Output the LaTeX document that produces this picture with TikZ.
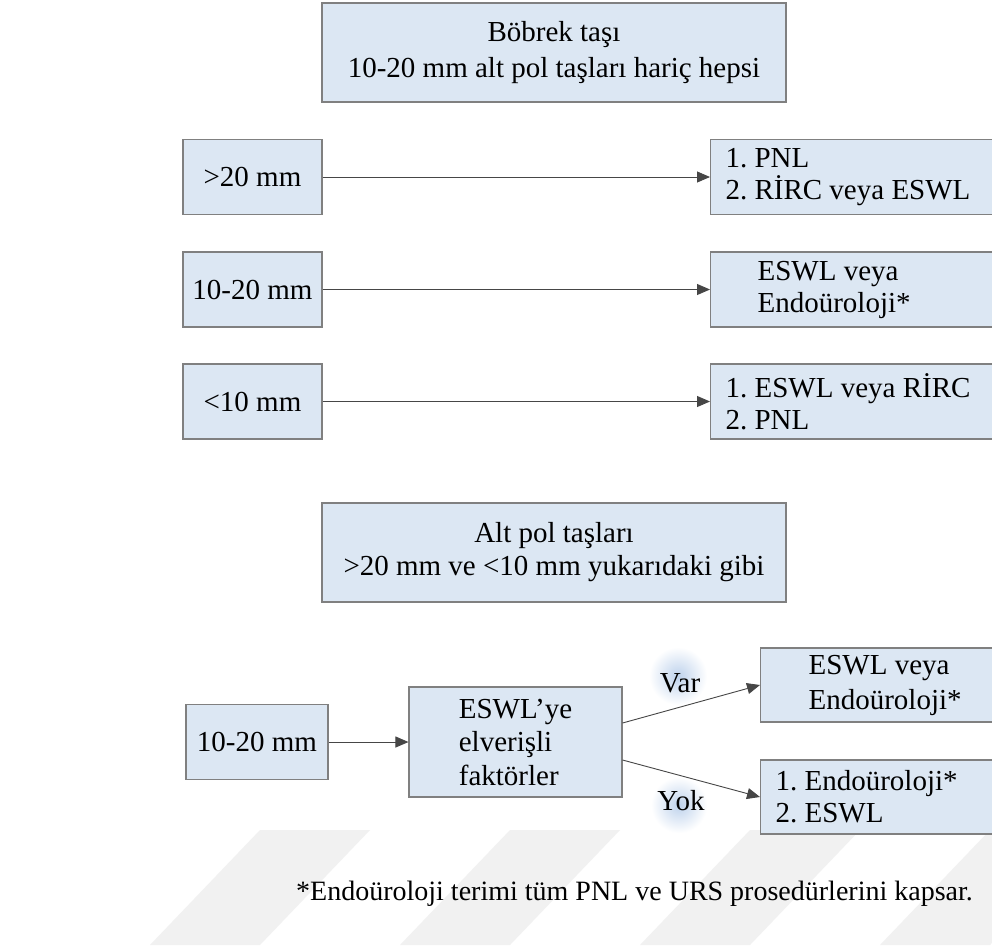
\documentclass[tikz,border=0pt]{standalone}
\usepackage{fontspec}
\setmainfont{Liberation Serif}
\usetikzlibrary{arrows.meta}
\definecolor{BoxBlue}{RGB}{220,231,243}
\definecolor{BoxEdge}{RGB}{128,128,128}
\definecolor{LineGray}{RGB}{70,70,70}
\definecolor{GlowBlue}{RGB}{190,210,236}
\definecolor{MarkGray}{RGB}{241,241,241}

\begin{document}
\frenchspacing
\begin{tikzpicture}[
    x=1pt,
    y=-1pt,
    font=\fontsize{29}{32}\selectfont,
    >={Triangle[length=13pt,width=11pt]},
    box/.style={
        draw=BoxEdge,
        line width=1.1pt,
        fill=BoxBlue,
        inner sep=0pt,
        minimum height=75pt
    },
    bigbox/.style={
        box,
        minimum width=464pt,
        minimum height=99pt,
        align=center
    },
    sizebox/.style={
        box,
        minimum width=139pt
    },
    resultbox/.style={
        box,
        anchor=west,
        align=flush left,
        inner xsep=#1,
        text width=260pt
    },
    arrow/.style={
        ->,
        line width=0.9pt,
        draw=LineGray
    },
    glow/.style={
        inner color=GlowBlue,
        outer color=white
    }
]

% page
\fill[white] (0,0) rectangle (992,945);
\useasboundingbox (0,0) rectangle (992,945);

% watermark bands
\foreach \x in {150,400,640,880}
    \fill[MarkGray] (\x,945) -- ++(110,0) -- ++(110,-115) -- ++(-110,0) -- cycle;

% kidney stones
\node[bigbox, font=\fontsize{29}{36}\selectfont] (kidney) at (554,52.5)
    {Böbrek taşı\\10-20 mm alt pol taşları hariç hepsi};

\node[sizebox] (large)  at (252.5,177) {>20 mm};
\node[sizebox] (medium) at (252.5,289.5) {10-20 mm};
\node[sizebox] (small)  at (252.5,401.5) {<10 mm};

\node[resultbox=15pt] (reslarge)  at (710,177) {1. PNL\\2. RİRC veya ESWL};
\node[resultbox=47pt] (resmedium) at (710,289.5) {ESWL veya\\Endoüroloji*};
\node[resultbox=15pt] (ressmall)  at (710,401.5) {1. ESWL veya RİRC\\2. PNL};

\draw[arrow] (large.east) -- (reslarge.west);
\draw[arrow] (medium.east) -- (resmedium.west);
\draw[arrow] (small.east) -- (ressmall.west);

% lower pole stones
\node[bigbox, font=\fontsize{29}{33}\selectfont] (lowerpole) at (554,552.5)
    {Alt pol taşları\\>20 mm ve <10 mm yukarıdaki gibi};

\node[box, minimum width=142pt] (lower) at (257,742) {10-20 mm};
\node[box, minimum width=213pt, minimum height=110pt, align=flush left,
    font=\fontsize{29}{33.5}\selectfont] (factors) at (515.5,742)
    {ESWL’ye\\elverişli\\faktörler};

\node[resultbox=48pt, minimum height=74pt, font=\fontsize{29}{35}\selectfont]
    (yes) at (760,685) {ESWL veya\\Endoüroloji*};
\node[resultbox=15pt, minimum height=74pt] (no) at (760,797)
    {1. Endoüroloji*\\2. ESWL};

\shade[glow] (678,676) circle[radius=29];
\shade[glow] (679,805) circle[radius=28];
\node[anchor=base] (varlabel) at (680,692) {Var};
\node[anchor=base] (yoklabel) at (681,810) {Yok};

\draw[arrow] (lower.east) -- (factors.west);
\draw[arrow] ([yshift=19pt]factors.east) -- (yes.west);
\draw[arrow] ([yshift=-18pt]factors.east) -- (no.west);

% note
\node[anchor=base, font=\fontsize{28}{32}\selectfont] (note) at (634.5,900)
    {*Endoüroloji terimi tüm PNL ve URS prosedürlerini kapsar.};

\end{tikzpicture}
\end{document}
